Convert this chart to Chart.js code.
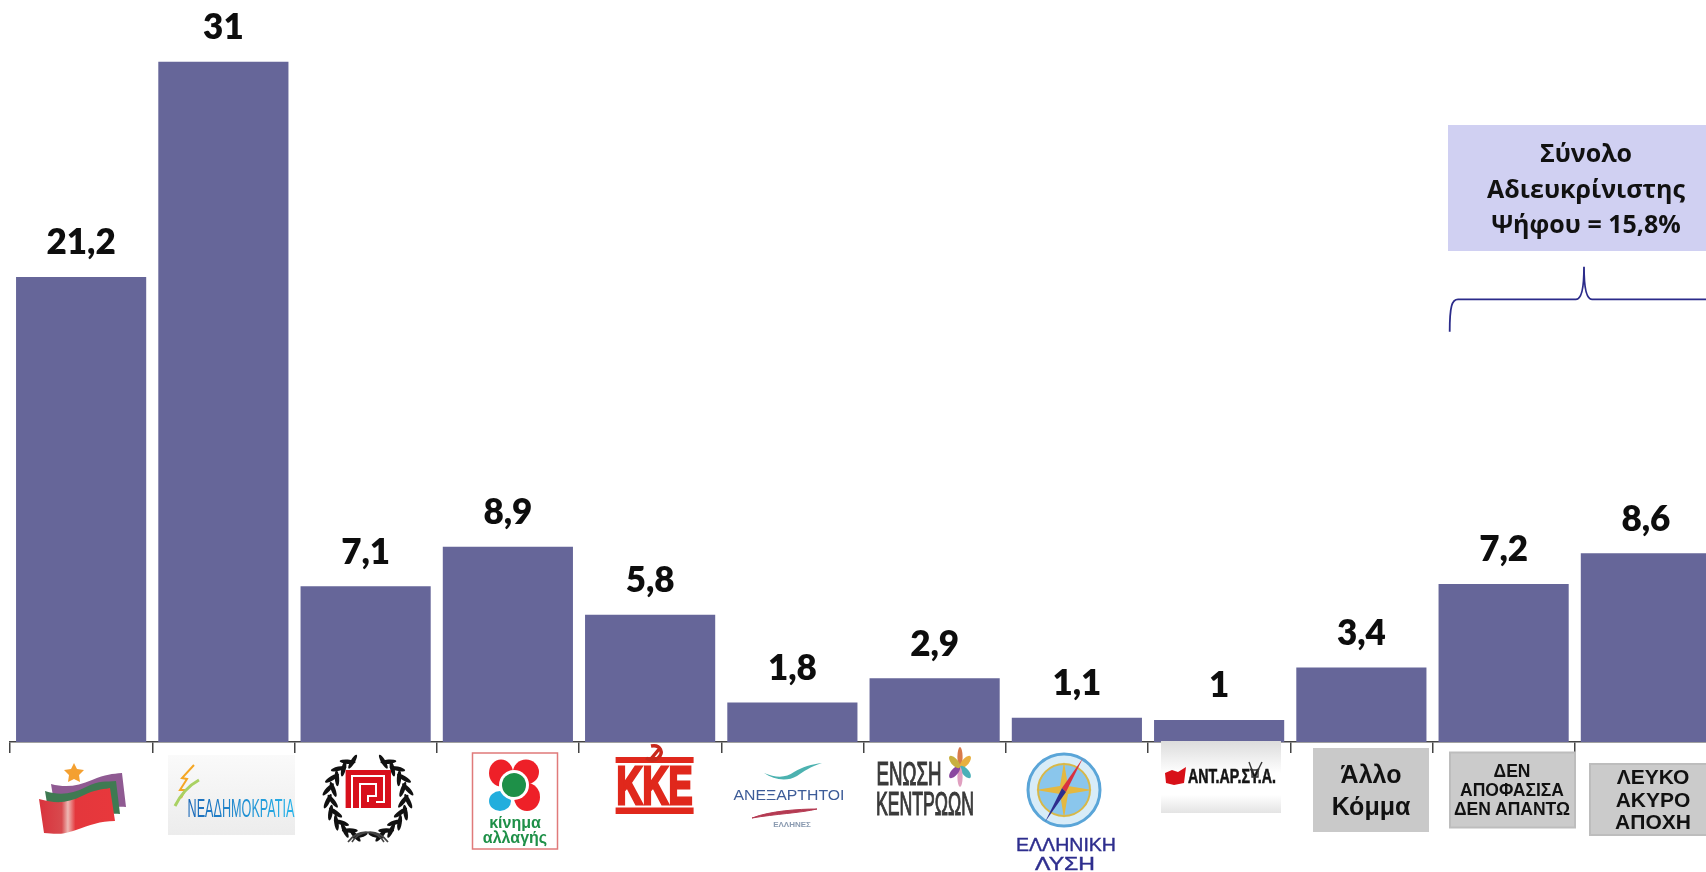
<!DOCTYPE html>
<html lang="el">
<head>
<meta charset="utf-8">
<title>Πρόθεση ψήφου</title>
<script src="https://cdn.jsdelivr.net/npm/chart.js@4"></script>
<style>
  html, body { margin: 0; padding: 0; background: #fff; overflow: hidden; }
  #wrap { position: relative; width: 1706px; height: 872px; overflow: hidden; }
  #chart-vote { position: absolute; left: 0; top: 0; }
  #logos { position: absolute; left: 0; top: 0; }
  #logos text { font-family: "Liberation Sans", sans-serif; font-weight: 700; text-anchor: middle; }
  #logos .note { font-family: "Open Sans", sans-serif; font-size: 25px; fill: #111; }
</style>
</head>
<body>
<div id="wrap">
  <canvas id="chart-vote" width="1730" height="872"></canvas>
  <svg id="logos" width="1706" height="872" viewBox="0 0 1706 872">
    <defs>
      <linearGradient id="ndBg" x1="0" y1="0" x2="0" y2="1"><stop offset="0" stop-color="#fafafa"/><stop offset="1" stop-color="#ececec"/></linearGradient>
      <linearGradient id="ndText" x1="0" y1="0" x2="1" y2="0"><stop offset="0" stop-color="#1b68b8"/><stop offset="1" stop-color="#27b4ea"/></linearGradient>
      <linearGradient id="antBg" x1="0" y1="0" x2="0" y2="1"><stop offset="0" stop-color="#dcdcdc"/><stop offset=".45" stop-color="#fff"/><stop offset=".75" stop-color="#fff"/><stop offset="1" stop-color="#e4e4e4"/></linearGradient>
      <linearGradient id="syrizaRed" x1="0" y1="0" x2="1" y2="0"><stop offset="0" stop-color="#d9323c"/><stop offset=".3" stop-color="#d84a4e"/><stop offset=".38" stop-color="#eeb8b4"/><stop offset=".48" stop-color="#e4373c"/><stop offset="1" stop-color="#e8383c"/></linearGradient>
    </defs>

    <!-- annotation box and bracket -->
    <rect x="1448" y="125" width="258" height="126" fill="#d0d0f2"/>
    <text class="note" x="1586" y="162">Σύνολο</text>
    <text class="note" x="1586" y="198">Αδιευκρίνιστης</text>
    <text class="note" x="1586" y="233">Ψήφου = 15,8%</text>
    <path d="M1449.7 331.7C1449.7 306 1452 299.3 1458 299.3H1576C1581 299.3 1584 290 1584 266.7C1584 290 1587 299.3 1592 299.3H1706" fill="none" stroke="#2b2b8a" stroke-width="1.8"/>

    <!-- ΣΥΡΙΖΑ -->
    <path d="M51 784C66 788 78 786 92 780S112 774 122 773L126 807C112 806 100 809 90 813L56 815Z" fill="#8f5a92"/>
    <path d="M45 791C60 796 72 794 86 787S106 782 116 781L120 814C106 813 94 816 84 820L50 822Z" fill="#3f7a52"/>
    <path d="M39 799C56 804 68 803 82 796S100 790 110 788L115 821C100 821 90 825 76 830S56 834 44 833Z" fill="url(#syrizaRed)"/>
    <path d="M74 763L77 769L84 770L79 775L80 782L74 779L68 782L69 775L64 770L71 769Z" fill="#f4a030"/>

    <!-- ΝΔ -->
    <rect x="168" y="755" width="127" height="80" fill="url(#ndBg)"/>
    <path d="M194 765L182 778L187 779L180 790L185 790L181 798" fill="none" stroke="#f5a623" stroke-width="2"/>
    <path d="M199 780C188 786 180 796 175 806" fill="none" stroke="#a9d163" stroke-width="3"/>
    <text x="241" y="817" font-size="26" textLength="107" lengthAdjust="spacingAndGlyphs" fill="url(#ndText)" style="font-weight:400">ΝΕΑΔΗΜΟΚΡΑΤΙΑ</text>

    <!-- Χρυσή Αυγή -->
    <g id="laurel"></g>
    <path d="M352 842C358 832 376 826 388 842M384 842C378 832 360 826 348 842" fill="none" stroke="#444" stroke-width="1.6"/>
    <rect x="345.6" y="770" width="45.4" height="38" fill="#d8101c"/>
    <path d="M352 808V776H384V802H376M360 808V784H376V796H368V802" fill="none" stroke="#fff" stroke-width="2"/>

    <!-- ΚΙΝΑΛ -->
    <rect x="472.5" y="753" width="85" height="96" fill="#fff" stroke="#e07a7a" stroke-width="1.5"/>
    <ellipse cx="501" cy="773" rx="12" ry="13.5" fill="#ee2028"/>
    <ellipse cx="526" cy="772" rx="13" ry="12.5" fill="#ee2028"/>
    <ellipse cx="527" cy="797" rx="13" ry="14" fill="#ee2028"/>
    <ellipse cx="500" cy="801" rx="11" ry="10" fill="#22aedd"/>
    <circle cx="514" cy="785" r="15" fill="#fff"/>
    <circle cx="514" cy="785" r="12" fill="#1e9048"/>
    <text x="515" y="828" font-size="16" fill="#1e9048">κίνημα</text>
    <text x="515" y="843" font-size="16" fill="#1e9048">αλλαγής</text>

    <!-- ΚΚΕ -->
    <rect x="615.6" y="757" width="78" height="6" fill="#e0281c"/>
    <rect x="615.6" y="807.5" width="78" height="6.5" fill="#e0281c"/>
    <text x="654.6" y="804" font-size="54" textLength="76" lengthAdjust="spacingAndGlyphs" fill="#e0281c" stroke="#e0281c" stroke-width="3">ΚΚΕ</text>
    <path d="M651 746C661 744 664 753 658 758C655 761 650 761 646 758M650 760L660 748" fill="none" stroke="#c8281c" stroke-width="3.4"/>

    <!-- Ανεξάρτητοι Έλληνες -->
    <path d="M764 773C776 778 786 778 794 772C802 767 812 764 822 763C810 767 804 771 797 776C787 782 774 780 764 773Z" fill="#4cb2b0"/>
    <text x="789" y="800" font-size="15.5" textLength="111" lengthAdjust="spacingAndGlyphs" fill="#3d5c98" style="font-weight:400">ΑΝΕΞΑΡΤΗΤΟΙ</text>
    <path d="M752 818C770 811 798 809 817 809C800 813 775 814 752 818Z" fill="#b43a52" stroke="#b43a52"/>
    <text x="792" y="827" font-size="8" fill="#8a9ab0">ΕΛΛΗΝΕΣ</text>

    <!-- Ένωση Κεντρώων -->
    <text x="909" y="785" font-size="33" textLength="65" lengthAdjust="spacingAndGlyphs" fill="#3a3a3a" style="font-weight:400" stroke="#3a3a3a" stroke-width="1.2">ΕΝΩΣΗ</text>
    <text x="925" y="815" font-size="33" textLength="98" lengthAdjust="spacingAndGlyphs" fill="#3a3a3a" style="font-weight:400" stroke="#3a3a3a" stroke-width="1.2">ΚΕΝΤΡΩΩΝ</text>
    <g transform="translate(960 767) scale(.52 .83)">
      <ellipse cx="0" cy="-12" rx="5" ry="12" fill="#d87a4a"/>
      <ellipse cx="0" cy="-12" rx="5" ry="12" fill="#e8b040" transform="rotate(60)"/>
      <ellipse cx="0" cy="-12" rx="5" ry="12" fill="#4ab0b8" transform="rotate(120)"/>
      <ellipse cx="0" cy="-12" rx="5" ry="12" fill="#e0a0c0" transform="rotate(180)"/>
      <ellipse cx="0" cy="-12" rx="5" ry="12" fill="#8a48a0" transform="rotate(240)"/>
      <ellipse cx="0" cy="-12" rx="5" ry="12" fill="#c8b040" transform="rotate(300)"/>
    </g>

    <!-- Ελληνική Λύση -->
    <circle cx="1064" cy="790" r="36" fill="#d8ecf8" stroke="#5aa5d8" stroke-width="3"/>
    <circle cx="1064" cy="790" r="26" fill="#8ac6ec" stroke="#d8b848" stroke-width="2"/>
    <path d="M1064 762L1068 786L1092 790L1068 794L1064 818L1060 794L1036 790L1060 786Z" fill="#e4b840"/>
    <path d="M1083 758L1066 792L1062 788Z" fill="#d83040"/>
    <path d="M1045 822L1062 788L1066 792Z" fill="#2e2e8e"/>
    <text x="1066" y="851" font-size="18" textLength="100" lengthAdjust="spacingAndGlyphs" fill="#2e2e8e" stroke="#2e2e8e" stroke-width=".4" style="font-weight:400">ΕΛΛΗΝΙΚΗ</text>
    <text x="1065" y="870" font-size="18" textLength="60" lengthAdjust="spacingAndGlyphs" fill="#2e2e8e" stroke="#2e2e8e" stroke-width=".4" style="font-weight:400">ΛΥΣΗ</text>

    <!-- ΑΝΤΑΡΣΥΑ -->
    <rect x="1161" y="741" width="120" height="72" fill="url(#antBg)"/>
    <path d="M1165 773L1172 770L1178 772L1186 767L1184 783L1174 785L1166 783Z" fill="#d81018"/>
    <text x="1232" y="783" font-size="20" textLength="88" lengthAdjust="spacingAndGlyphs" fill="#151515" stroke="#151515" stroke-width=".6">ΑΝΤ.ΑΡ.ΣΥ.Α.</text>
    <path d="M1249 762L1252 770M1262 762L1258 770M1252 770H1258V777H1252Z" fill="none" stroke="#333" stroke-width="1.4"/>

    <!-- γκρι πλαίσια -->
    <rect x="1313" y="748" width="116" height="84" fill="#c9c9c9"/>
    <text x="1371" y="783" font-size="25" fill="#111">Άλλο</text>
    <text x="1371" y="815" font-size="25" fill="#111">Κόμμα</text>
    <rect x="1450" y="752.5" width="125" height="75" fill="#cbcbcb" stroke="#bdbdbd" stroke-width="2"/>
    <text x="1512" y="777" font-size="17.5" fill="#111">ΔΕΝ</text>
    <text x="1512" y="796" font-size="17.5" fill="#111">ΑΠΟΦΑΣΙΣΑ</text>
    <text x="1512" y="815" font-size="17.5" fill="#111">ΔΕΝ ΑΠΑΝΤΩ</text>
    <rect x="1590" y="764" width="120" height="71" fill="#cbcbcb" stroke="#bdbdbd" stroke-width="2"/>
    <text x="1653" y="784" font-size="21" fill="#111">ΛΕΥΚΟ</text>
    <text x="1653" y="807" font-size="21" fill="#111">ΑΚΥΡΟ</text>
    <text x="1653" y="829" font-size="21" fill="#111">ΑΠΟΧΗ</text>
  </svg>
</div>
<script>
const categories = ["ΣΥΡΙΖΑ", "ΝΕΑ ΔΗΜΟΚΡΑΤΙΑ", "ΧΡΥΣΗ ΑΥΓΗ", "ΚΙΝΗΜΑ ΑΛΛΑΓΗΣ", "ΚΚΕ", "ΑΝΕΞΑΡΤΗΤΟΙ ΕΛΛΗΝΕΣ", "ΕΝΩΣΗ ΚΕΝΤΡΩΩΝ", "ΕΛΛΗΝΙΚΗ ΛΥΣΗ", "ΑΝΤΑΡΣΥΑ", "ΑΛΛΟ ΚΟΜΜΑ", "ΔΕΝ ΑΠΟΦΑΣΙΣΑ / ΔΕΝ ΑΠΑΝΤΩ", "ΛΕΥΚΟ / ΑΚΥΡΟ / ΑΠΟΧΗ"];
const voteShare = [21.2, 31, 7.1, 8.9, 5.8, 1.8, 2.9, 1.1, 1, 3.4, 7.2, 8.6];

// value labels above the bars, greek decimal comma
const valueLabels = {
  id: "valueLabels",
  afterDatasetsDraw(chart) {
    const { ctx } = chart;
    ctx.save();
    ctx.font = "800 35px Lato, sans-serif";
    ctx.fillStyle = "#0d0d0d";
    ctx.textAlign = "center";
    ctx.textBaseline = "middle";
    chart.getDatasetMeta(0).data.forEach((bar, i) => {
      ctx.fillText(String(voteShare[i]).replace(".", ","), bar.x, bar.y - 34);
    });
    ctx.restore();
  },
};

new Chart(document.getElementById("chart-vote"), {
  type: "bar",
  plugins: [valueLabels],
  data: {
    labels: categories,
    datasets: [
      {
        data: voteShare,
        backgroundColor: "#666699",
        categoryPercentage: 1,
        barPercentage: 0.915,
      },
    ],
  },
  options: {
    responsive: false,
    animation: false,
    layout: { padding: { left: 10, right: 13, top: 0, bottom: 0 } },
    plugins: { legend: { display: false }, tooltip: { enabled: false } },
    scales: {
      x: {
        afterFit: (s) => { s.height = 130; },
        grid: { offset: true, drawOnChartArea: false, drawTicks: true, tickLength: 11, color: "#444", lineWidth: 1.5 },
        border: { color: "#444", width: 1.5 },
        ticks: { display: false },
      },
      y: { display: false, min: 0, max: 33.82 },
    },
  },
});

// golden dawn wreath, leaf by leaf along two arcs
const laurel = document.getElementById("laurel");
let leaves = "";
for (const side of [-1, 1]) {
  for (let k = 0; k < 9; k++) {
    const deg = 28 + k * 17;
    const a = deg * Math.PI / 180;
    const x = 368 + side * 38 * Math.sin(a);
    const y = 797 - 40 * Math.cos(a);
    // long axis of the ellipse follows the arc, inner and outer leaf splayed from it
    const inner = side * (deg + 90 + 32);
    const outer = side * (deg + 90 - 32);
    leaves += `<ellipse cx="${x - side * 2.5}" cy="${y}" rx="2.2" ry="8" fill="#111" transform="rotate(${inner} ${x - side * 2.5} ${y})"/>`;
    leaves += `<ellipse cx="${x + side * 2.5}" cy="${y}" rx="2.2" ry="8" fill="#111" transform="rotate(${outer} ${x + side * 2.5} ${y})"/>`;
  }
}
laurel.innerHTML = leaves;
</script>
</body>
</html>
